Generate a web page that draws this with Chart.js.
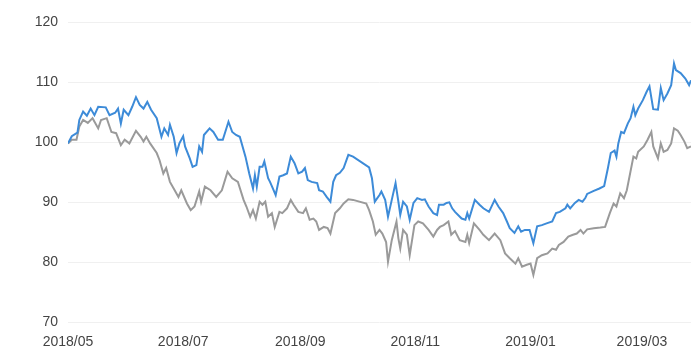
<!DOCTYPE html>
<html>
<head>
<meta charset="utf-8">
<script src="https://cdn.jsdelivr.net/npm/chart.js@4"></script>
<style>
  html, body { margin: 0; padding: 0; background: #ffffff; }
  #wrap { width: 691px; height: 349px; }
</style>
</head>
<body>
<div id="wrap"><canvas id="c" width="691" height="349"></canvas></div>
<script>
// Dates are given as day offsets from 2018-05-01
const startDate = Date.UTC(2018, 4, 1);
const tickLabels = ["2018/05", "2018/07", "2018/09", "2018/11", "2019/01", "2019/03"];
const yTicks = [70, 80, 90, 100, 110, 120];

const blueDay = [
  0, 2, 5, 6, 8, 10, 12, 14, 16, 20,
  22, 25, 26.5, 28, 29.5, 32, 34, 36, 38, 40,
  42, 44, 47, 49.5, 51, 53, 54, 56, 57.5, 59,
  61, 62, 64.5, 66, 68, 69.5, 71, 72, 75, 77,
  79.5, 82, 85, 87, 89, 91, 94, 96, 98, 99,
  100, 101.5, 103, 104, 106, 107, 108.5, 110, 112, 114,
  116, 118, 120, 122, 124, 125.5, 127, 129, 132, 133,
  135, 137, 139, 140.5, 142, 144, 146, 148.5, 151, 159.5,
  161, 162.5, 165, 166, 168, 169.5, 171.5, 173.5, 175, 176,
  177.5, 179.5, 181, 183, 185, 187.5, 189, 191, 193.5, 195.5,
  196.5, 199, 200.5, 202, 203.5, 205, 208.5, 210.5, 211.5, 212.5,
  215.5, 218, 220, 223, 226, 228, 230.5, 232.5, 234, 236.5,
  238.5, 240, 242, 244.5, 246.5, 248.5, 251, 253.5, 256.5, 258.5,
  260.5, 263.5, 264.5, 266, 268.5, 270.5, 272.5, 274, 275, 278.5,
  281.5, 284, 286, 287.5, 289.5, 290.5, 291.5, 293, 294.5, 296.5,
  298, 299.5, 300.5, 302, 304.5, 306.5, 308, 310, 312.5, 314,
  315.5, 317.5, 319.5, 321, 322, 324.5, 327, 329, 330
];
const blueValue = [
  99.8, 101.0, 101.6, 103.7, 105.1, 104.4, 105.6, 104.5, 105.9, 105.8,
  104.5, 104.9, 105.6, 103.1, 105.4, 104.5, 105.9, 107.5, 106.2, 105.6,
  106.7, 105.4, 104.0, 100.9, 102.3, 101.2, 102.9, 100.9, 98.2, 99.8,
  101.0, 99.3, 97.3, 95.9, 96.2, 99.3, 98.4, 101.2, 102.3, 101.7,
  100.4, 100.4, 103.4, 101.7, 101.2, 100.9, 97.6, 94.8, 92.3, 94.5,
  92.6, 95.9, 95.9, 96.8, 94.0, 93.4, 92.3, 91.2, 94.3, 94.5,
  94.8, 97.6, 96.5, 94.8, 95.1, 95.7, 93.7, 93.4, 93.2, 92.0,
  91.8, 90.9, 90.1, 93.4, 94.5, 94.9, 95.7, 97.9, 97.6, 95.8,
  94.0, 90.1, 91.2, 91.8, 90.4, 87.6, 90.4, 93.2, 90.1, 87.9,
  90.1, 89.3, 87.1, 89.9, 90.7, 90.4, 90.5, 89.3, 88.2, 87.9,
  89.6, 89.6, 89.9, 90.0, 89.0, 88.4, 87.3, 87.1, 88.2, 87.3,
  90.4, 89.6, 89.0, 88.4, 90.4, 89.3, 88.2, 86.8, 85.7, 84.9,
  86.0, 85.1, 85.4, 85.4, 83.2, 86.0, 86.2, 86.5, 86.8, 88.2,
  88.4, 89.0, 89.6, 89.0, 89.9, 90.4, 90.1, 90.7, 91.4, 91.9,
  92.3, 92.7, 95.7, 98.2, 98.6, 97.6, 99.8, 101.7, 101.5, 103.1,
  104.0, 105.9, 104.5, 105.6, 107.0, 108.4, 109.3, 105.5, 105.4, 109.0,
  107.0, 108.1, 109.5, 113.1, 112.0, 111.5, 110.6, 109.5, 110.3
];

const grayDay = [
  0, 2, 4.5, 6, 8, 10.5, 13, 16, 17.5, 20.5,
  23, 25.5, 28, 30, 32.5, 36, 38.5, 40, 41.5, 43.5,
  47, 48.5, 50.5, 52, 54, 56.5, 58.5, 60, 63, 65,
  67, 69.5, 70.5, 72.5, 75.5, 78.5, 81.5, 84.5, 87, 90,
  93, 94.5, 96.5, 98, 99.5, 101.5, 103, 104.5, 106, 108,
  109.5, 112, 113.5, 116, 118, 119.5, 122, 124.5, 126, 128,
  130, 131.5, 133, 135.5, 137.5, 139, 141.5, 144, 146, 148.5,
  151, 158, 159.5, 161.5, 163, 165, 166.5, 168.5, 169.5, 171.5,
  174, 175, 176, 177.5, 179.5, 181, 183.5, 185.5, 188, 191,
  193.5, 195.5, 197, 199, 201.5, 203, 205, 207.5, 210.5, 211.5,
  212.5, 215, 218, 220, 223, 226, 229, 231.5, 234, 237,
  238.5, 240.5, 243, 245, 246.5, 248.5, 251, 254, 256.5, 258.5,
  260, 262.5, 265, 267.5, 269.5, 271.5, 273, 275, 278.5, 282,
  284.5, 287, 289, 290.5, 292.5, 294.5, 296, 299.5, 301, 302,
  305, 307, 309, 310, 312.5, 314, 315.5, 317.5, 319.5, 321,
  323, 324.5, 326.5, 328, 330
];
const grayValue = [
  99.8, 100.4, 100.4, 102.6, 103.7, 103.2, 104.0, 102.3, 103.7, 104.0,
  101.7, 101.5, 99.5, 100.4, 99.8, 101.9, 100.9, 100.1, 100.9, 99.8,
  98.2, 97.0, 94.8, 95.7, 93.4, 92.0, 90.9, 92.0, 89.8, 88.7,
  89.3, 91.8, 90.1, 92.6, 92.0, 90.9, 92.0, 95.1, 94.0, 93.4,
  90.4, 89.3, 87.6, 88.7, 87.3, 90.1, 89.6, 90.1, 87.6, 88.2,
  85.9, 88.4, 88.2, 89.0, 90.4, 89.6, 88.4, 88.2, 89.0, 87.1,
  87.3, 86.8, 85.4, 85.9, 85.7, 84.8, 88.2, 89.0, 89.8, 90.5,
  90.4, 89.8, 88.7, 86.8, 84.6, 85.4, 84.8, 83.4, 80.1, 83.7,
  86.8, 84.0, 82.3, 85.4, 84.6, 81.2, 86.2, 86.8, 86.5, 85.4,
  84.3, 85.4, 85.9, 86.2, 86.8, 84.6, 85.2, 83.7, 83.4, 84.6,
  83.2, 86.5, 85.4, 84.6, 83.7, 84.8, 83.7, 81.5, 80.7, 79.8,
  80.7, 79.3, 79.6, 79.8, 77.9, 80.7, 81.2, 81.5, 82.3, 82.1,
  82.9, 83.4, 84.3, 84.6, 84.8, 85.4, 84.8, 85.5, 85.7, 85.8,
  85.9, 88.2, 89.8, 89.3, 91.5, 90.7, 92.0, 97.6, 97.3, 98.4,
  99.3, 100.4, 101.7, 99.3, 97.3, 99.8, 98.4, 98.7, 99.8, 102.3,
  101.9, 101.2, 100.1, 99.0, 99.3
];

function toPoints(days, vals) {
  const n = Math.min(days.length, vals.length);
  const out = [];
  for (let i = 0; i < n; i++) out.push({ x: days[i], y: vals[i] });
  return out;
}
function labelToDay(lbl) {
  const [y, m] = lbl.split('/').map(Number);
  return (Date.UTC(y, m - 1, 1) - startDate) / 86400000;
}
const tickDays = tickLabels.map(labelToDay);

const FONT = "'Liberation Sans', Arial, sans-serif";

new Chart(document.getElementById('c'), {
  type: 'line',
  data: {
    datasets: [
      {
        data: toPoints(blueDay, blueValue),
        borderColor: '#3d8bd8',
        borderWidth: 2,
        pointRadius: 0,
        tension: 0,
        fill: false
      },
      {
        data: toPoints(grayDay, grayValue),
        borderColor: '#9a9a9a',
        borderWidth: 2,
        pointRadius: 0,
        tension: 0,
        fill: false
      }
    ]
  },
  options: {
    responsive: false,
    animation: false,
    layout: { padding: { top: 22, right: 0, bottom: 0, left: 0 } },
    plugins: { legend: { display: false }, tooltip: { enabled: false } },
    scales: {
      x: {
        type: 'linear',
        min: 0,
        max: 330,
        border: { display: false },
        grid: { display: false, drawTicks: false },
        afterBuildTicks: (scale) => { scale.ticks = tickDays.map(v => ({ value: v })); },
        afterFit: (scale) => { scale.height = 26.5; },
        ticks: {
          autoSkip: false,
          maxRotation: 0,
          padding: 13,
          color: '#444',
          font: { family: FONT, size: 14, lineHeight: 1.0 },
          callback: (v, i) => tickLabels[i]
        }
      },
      y: {
        min: 70,
        max: 120,
        border: { display: false },
        grid: { color: '#f0f0f0', lineWidth: 1, drawTicks: false },
        afterBuildTicks: (scale) => { scale.ticks = yTicks.map(v => ({ value: v })); },
        afterFit: (scale) => { scale.width = 68; },
        ticks: {
          padding: 10,
          color: '#444',
          font: { family: FONT, size: 14 },
          callback: (v) => String(v)
        }
      }
    }
  }
});
</script>
</body>
</html>
